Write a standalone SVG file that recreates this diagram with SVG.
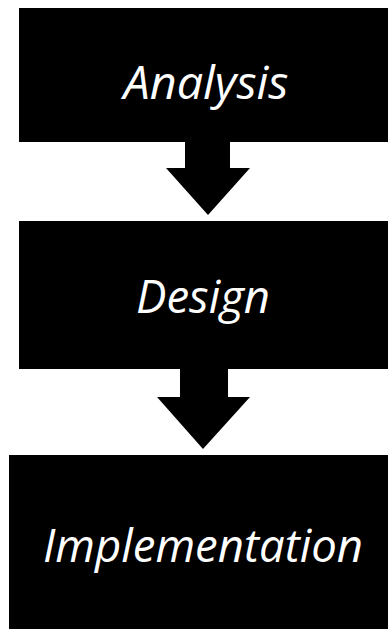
<svg xmlns="http://www.w3.org/2000/svg" width="388" height="629" viewBox="0 0 388 629">
<style>
.box{fill:#000}
.arrow{fill:#000}
.lbl{fill:#fff;font-family:"Open Sans","Noto Sans","Liberation Sans",sans-serif;font-style:italic;font-size:46px;text-anchor:middle}
</style>
<rect width="388" height="629" fill="#fff"/>
<g id="analysis">
<rect class="box" x="19" y="8" width="369" height="134"/>
<text class="lbl" x="206" y="99" textLength="165" lengthAdjust="spacingAndGlyphs">Analysis</text>
</g>
<g id="design">
<rect class="box" x="19" y="221" width="369" height="148"/>
<text class="lbl" x="203" y="313" textLength="134" lengthAdjust="spacingAndGlyphs">Design</text>
</g>
<g id="implementation">
<rect class="box" x="9" y="455" width="379" height="174"/>
<text class="lbl" x="203" y="562" textLength="320" lengthAdjust="spacingAndGlyphs">Implementation</text>
</g>
<g id="connectors">
<polygon class="arrow" points="185,141 230,141 230,168 250,168 208,215 166,168 185,168"/>
<polygon class="arrow" points="180,368 228,368 228,397 250,397 203,449 157,397 180,397"/>
</g>
</svg>
